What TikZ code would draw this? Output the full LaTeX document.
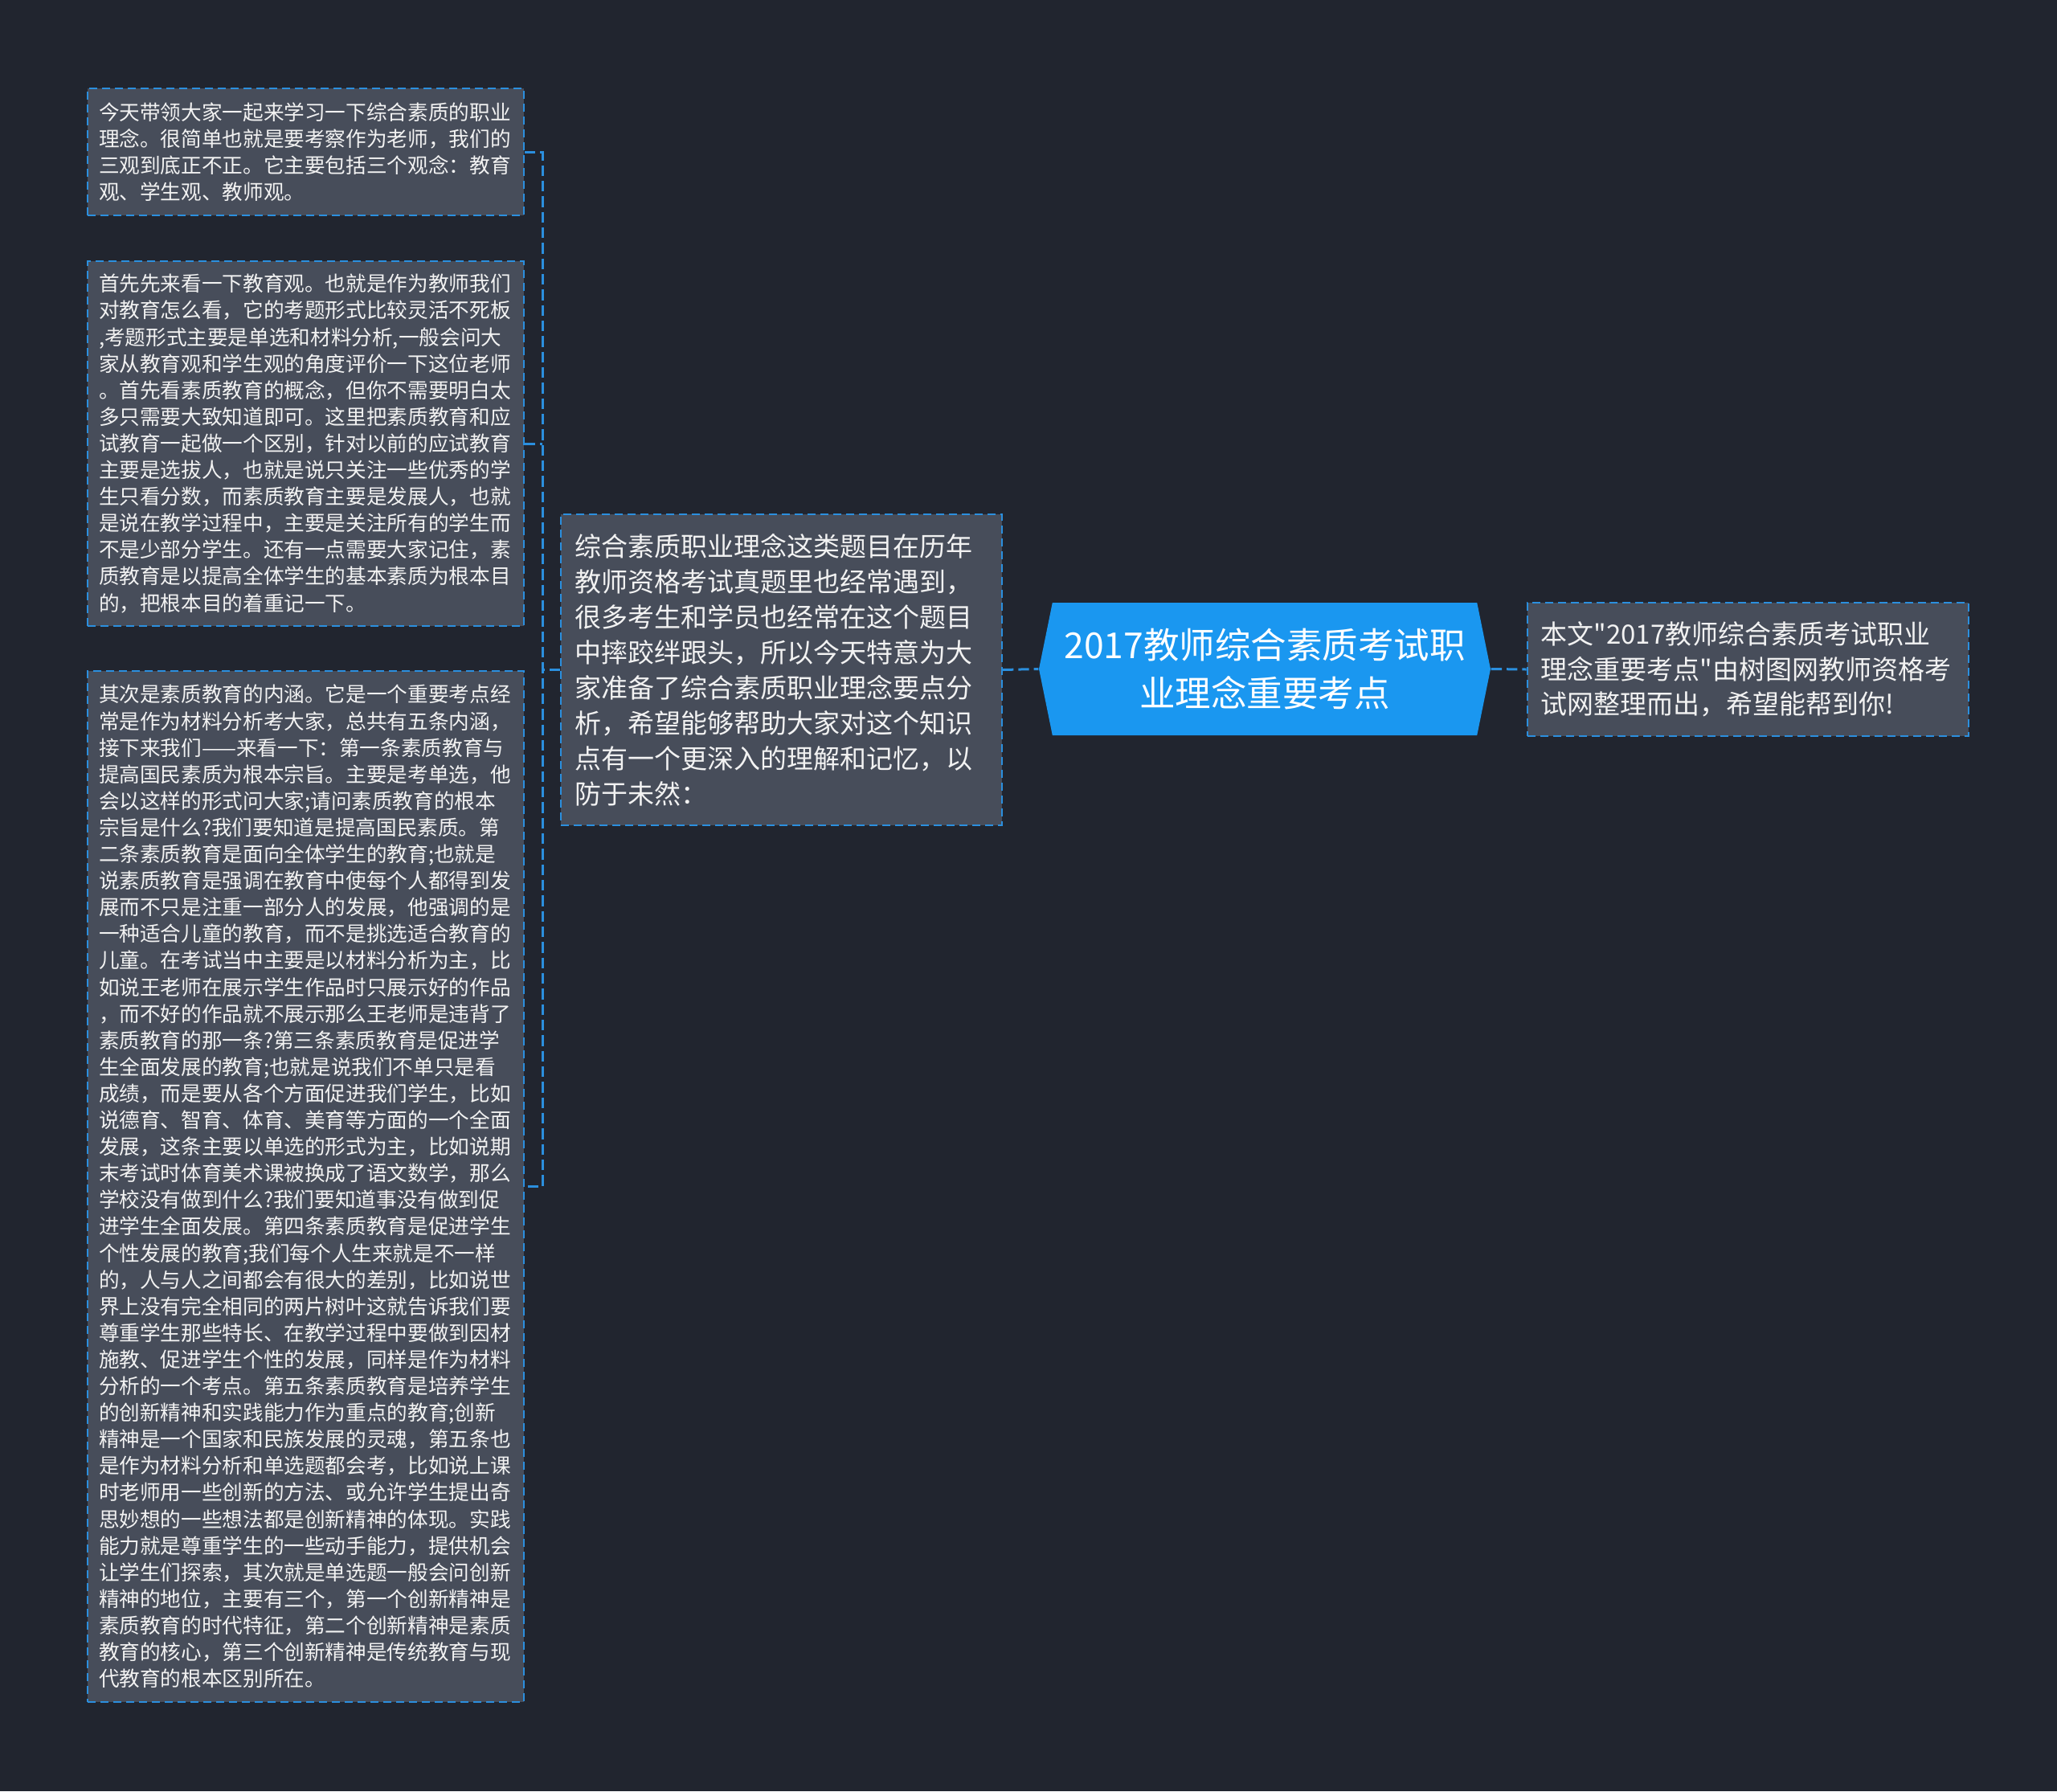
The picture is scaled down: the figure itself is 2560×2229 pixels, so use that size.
\documentclass[tikz,border=0pt]{standalone}
\usepackage{fontspec}
\setmainfont{Noto Sans CJK SC}[Ligatures=TeXOff]
\usetikzlibrary{shapes.symbols}
\definecolor{bg}{HTML}{21252F}
\definecolor{boxfill}{HTML}{474D5A}
\definecolor{lineblue}{HTML}{2B8FDE}
\definecolor{mainblue}{HTML}{1A97F0}
\definecolor{txt}{HTML}{F2F2F2}
\begin{document}
\begin{tikzpicture}[x=0.3pt,y=-0.3pt,
  infobox/.style={draw=lineblue, line width=0.6pt, dash pattern=on 3pt off 1.8pt,
    fill=boxfill, text=txt, align=left, inner ysep=0pt, anchor=center},
  smalltext/.style={font=\fontsize{7.69pt}{9.93pt}\selectfont, text width=154.5pt,
    inner xsep=4.2pt},
  bigtext/.style={font=\fontsize{9.9pt}{13.2pt}\selectfont, text width=154.5pt,
    inner xsep=5.1pt},
  link/.style={draw=lineblue, line width=0.9pt, dash pattern=on 4pt off 1.8pt},
  mainnode/.style={signal, signal to=west and east, signal pointer angle=157,
    fill=mainblue, text=white, align=center, inner sep=0pt,
    font=\fontsize{13.35pt}{18pt}\selectfont}
]
\fill[bg] (0,0) rectangle (2560,2229);
\useasboundingbox (0,0) rectangle (2560,2229);

\node[infobox, smalltext, minimum height=47.4pt] (b1) at (380.5,189) {今天带领大家一起来学习一下综合素质的职业\\理念。很简单也就是要考察作为老师，我们的\\三观到底正不正。它主要包括三个观念：教育\\观、学生观、教师观。};

\node[infobox, smalltext, minimum height=136.2pt] (b2) at (380.5,552) {首先先来看一下教育观。也就是作为教师我们\\对教育怎么看，它的考题形式比较灵活不死板\\,考题形式主要是单选和材料分析,一般会问大\\家从教育观和学生观的角度评价一下这位老师\\。首先看素质教育的概念，但你不需要明白太\\多只需要大致知道即可。这里把素质教育和应\\试教育一起做一个区别，针对以前的应试教育\\主要是选拔人，也就是说只关注一些优秀的学\\生只看分数，而素质教育主要是发展人，也就\\是说在教学过程中，主要是关注所有的学生而\\不是少部分学生。还有一点需要大家记住，素\\质教育是以提高全体学生的基本素质为根本目\\的，把根本目的着重记一下。};

\node[infobox, smalltext, minimum height=384.9pt] (b3) at (380.5,1476.5) {其次是素质教育的内涵。它是一个重要考点经\\常是作为材料分析考大家，总共有五条内涵，\\接下来我们——来看一下：第一条素质教育与\\提高国民素质为根本宗旨。主要是考单选，他\\会以这样的形式问大家;请问素质教育的根本\\宗旨是什么?我们要知道是提高国民素质。第\\二条素质教育是面向全体学生的教育;也就是\\说素质教育是强调在教育中使每个人都得到发\\展而不只是注重一部分人的发展，他强调的是\\一种适合儿童的教育，而不是挑选适合教育的\\儿童。在考试当中主要是以材料分析为主，比\\如说王老师在展示学生作品时只展示好的作品\\，而不好的作品就不展示那么王老师是违背了\\素质教育的那一条?第三条素质教育是促进学\\生全面发展的教育;也就是说我们不单只是看\\成绩，而是要从各个方面促进我们学生，比如\\说德育、智育、体育、美育等方面的一个全面\\发展，这条主要以单选的形式为主，比如说期\\末考试时体育美术课被换成了语文数学，那么\\学校没有做到什么?我们要知道事没有做到促\\进学生全面发展。第四条素质教育是促进学生\\个性发展的教育;我们每个人生来就是不一样\\的，人与人之间都会有很大的差别，比如说世\\界上没有完全相同的两片树叶这就告诉我们要\\尊重学生那些特长、在教学过程中要做到因材\\施教、促进学生个性的发展，同样是作为材料\\分析的一个考点。第五条素质教育是培养学生\\的创新精神和实践能力作为重点的教育;创新\\精神是一个国家和民族发展的灵魂，第五条也\\是作为材料分析和单选题都会考，比如说上课\\时老师用一些创新的方法、或允许学生提出奇\\思妙想的一些想法都是创新精神的体现。实践\\能力就是尊重学生的一些动手能力，提供机会\\让学生们探索，其次就是单选题一般会问创新\\精神的地位，主要有三个，第一个创新精神是\\素质教育的时代特征，第二个创新精神是素质\\教育的核心，第三个创新精神是传统教育与现\\代教育的根本区别所在。};

\node[infobox, bigtext, minimum height=116.1pt] (m) at (972.5,833.5) {综合素质职业理念这类题目在历年\\教师资格考试真题里也经常遇到，\\很多考生和学员也经常在这个题目\\中摔跤绊跟头，所以今天特意为大\\家准备了综合素质职业理念要点分\\析，希望能够帮助大家对这个知识\\点有一个更深入的理解和记忆，以\\防于未然：};

\node[mainnode, minimum width=168.6pt, minimum height=49.5pt] (c) at (1574,832.5) {2017教师综合素质考试职\\业理念重要考点};

\node[infobox, bigtext, font=\fontsize{9.9pt}{13pt}\selectfont, minimum height=49.8pt] (r) at (2175,833) {本文"2017教师综合素质考试职业\\理念重要考点"由树图网教师资格考\\试网整理而出，希望能帮到你!};

\coordinate (j) at (675,833.5);
\draw[link] (m.west) -- (j);
\draw[link] (b1.east) -- (b1.east -| j) -- (b3.east -| j) -- (b3.east);
\draw[link] (b2.east) -- (b2.east -| j);
\draw[link] (m.east) -- (c.west);
\draw[link] (c.east) -- (r.west);
\end{tikzpicture}
\end{document}
